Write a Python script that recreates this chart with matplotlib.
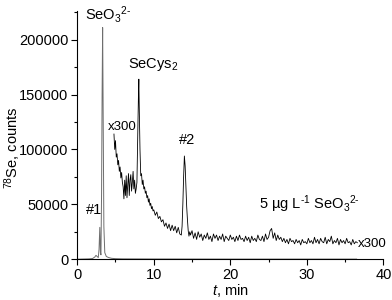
import matplotlib
matplotlib.use('Agg')
import matplotlib.pyplot as plt
from matplotlib.ticker import MultipleLocator

# raw trace (grey), counts
t_raw = [0.0, 1.5, 2.0, 2.3, 2.45, 2.6, 2.75, 2.85, 2.95, 3.03, 3.1, 3.18, 3.25, 3.32,
         3.4, 3.48, 3.6, 3.8, 4.1, 4.5, 5.0, 6.0, 10.0, 20.0, 36.5]
c_raw = [0, 300, 600, 2000, 3500, 2500, 1500, 9000, 29000, 6000, 4000, 60000, 150000, 211000,
         120000, 30000, 6000, 2500, 1500, 800, 500, 300, 200, 100, 100]

# x300 trace (black), counts
t_x300 = [4.8, 4.9, 5.0, 5.1, 5.2, 5.3, 5.4, 5.5, 5.6, 5.7, 5.8, 5.9, 6.0, 6.1, 6.2,
          6.3, 6.4, 6.5, 6.6, 6.7, 6.8, 6.9, 7.0, 7.1, 7.2, 7.3, 7.4, 7.5, 7.6, 7.7,
          7.8, 7.9, 8.0, 8.05, 8.1, 8.2, 8.3, 8.4, 8.5, 8.6, 8.7, 8.8, 8.9, 9.0, 9.1,
          9.2, 9.3, 9.4, 9.5, 9.6, 9.7, 9.8, 9.9, 10.0, 10.2, 10.4, 10.6, 10.8, 11.0,
          11.2, 11.4, 11.6, 11.8, 12.0, 12.2, 12.4, 12.6, 12.8, 13.0, 13.2, 13.4, 13.6,
          13.7, 13.8, 13.9, 14.0, 14.1, 14.2, 14.3, 14.4, 14.5, 14.6, 14.7, 14.8, 15.0,
          15.2, 15.4, 15.6, 15.8, 16.0, 16.2, 16.4, 16.6, 16.8, 17.0, 17.2, 17.4, 17.6,
          17.8, 18.0, 18.2, 18.4, 18.6, 18.8, 19.0, 19.2, 19.4, 19.6, 19.8, 20.0, 20.2,
          20.4, 20.6, 20.8, 21.0, 21.2, 21.4, 21.6, 21.8, 22.0, 22.2, 22.4, 22.6, 22.8,
          23.0, 23.2, 23.4, 23.6, 23.8, 24.0, 24.2, 24.4, 24.6, 24.8, 25.0, 25.2, 25.4,
          25.6, 25.8, 26.0, 26.2, 26.4, 26.6, 26.8, 27.0, 27.2, 27.4, 27.6, 27.8, 28.0,
          28.2, 28.4, 28.6, 28.8, 29.0, 29.2, 29.4, 29.6, 29.8, 30.0, 30.2, 30.4, 30.6,
          30.8, 31.0, 31.2, 31.4, 31.6, 31.8, 32.0, 32.2, 32.4, 32.6, 32.8, 33.0, 33.2,
          33.4, 33.6, 33.8, 34.0, 34.2, 34.4, 34.6, 34.8, 35.0, 35.2, 35.4, 35.6, 35.8,
          36.0, 36.2, 36.4, 36.6]
c_x300 = [114000, 100000, 108000, 93000, 96000, 86000, 90000, 80000, 84000, 74000, 79000, 70000, 66000, 55000, 72000,
          58000, 76000, 56000, 68000, 78000, 58000, 72000, 77000, 62000, 70000, 80000, 64000, 72000, 60000, 64000,
          70000, 110000, 150000, 164000, 140000, 100000, 76000, 78000, 68000, 72000, 64000, 66000, 60000, 62000, 56000,
          58000, 52000, 55000, 49000, 51000, 46000, 48000, 44000, 45000, 40000, 43000, 37000, 39000, 34000,
          36000, 30000, 33000, 28000, 32000, 26000, 31000, 26000, 30000, 24000, 29000, 23000, 22000,
          30000, 50000, 75000, 94000, 85000, 66000, 48000, 36000, 26000, 21000, 25000, 22000, 26000,
          19000, 24000, 18000, 25000, 20000, 23000, 17000, 22000, 19000, 24000, 18000, 21000, 16000,
          23000, 19000, 22000, 17000, 21000, 18000, 23000, 16000, 21000, 19000, 17000, 22000, 18000,
          20000, 16000, 21000, 17000, 22000, 18000, 19000, 16000, 21000, 17000, 20000, 15000, 21000,
          17000, 19000, 16000, 22000, 18000, 17000, 21000, 16000, 23000, 18000, 20000, 26000, 28000,
          19000, 24000, 17000, 22000, 18000, 20000, 16000, 19000, 15000, 18000, 14000, 19000, 16000,
          17000, 14000, 18000, 15000, 17000, 13000, 18000, 15000, 16000, 14000, 19000, 15000, 17000,
          14000, 20000, 15000, 18000, 14000, 19000, 16000, 15000, 20000, 14000, 18000, 16000, 21000,
          14000, 17000, 15000, 19000, 13000, 18000, 15000, 17000, 14000, 19000, 15000, 16000, 13000,
          18000, 14000, 16000, 15000]

plt.rcParams['font.family'] = ['Liberation Sans', 'DejaVu Sans']
plt.rcParams['mathtext.fontset'] = 'custom'
plt.rcParams['mathtext.rm'] = 'Liberation Sans'
plt.rcParams['mathtext.it'] = 'Liberation Sans:italic'

fig = plt.figure(figsize=(3.92, 3.0), dpi=100)
ax = fig.add_axes([0.197, 0.136, 0.781, 0.827])

ax.plot(t_raw, c_raw, color='#6e6e6e', lw=0.7)
ax.plot(t_x300, c_x300, color='black', lw=0.6)

ax.set_xlim(0, 40)
ax.set_ylim(0, 226000)
ax.spines['top'].set_visible(False)
ax.spines['right'].set_visible(False)
ax.xaxis.set_major_locator(MultipleLocator(10))
ax.xaxis.set_minor_locator(MultipleLocator(5))
ax.yaxis.set_major_locator(MultipleLocator(50000))
ax.yaxis.set_minor_locator(MultipleLocator(25000))
ax.tick_params(which='major', direction='out', length=4, width=0.8, labelsize=10.5, pad=2.5)
ax.tick_params(which='minor', direction='out', length=2.5, width=0.8)

ax.set_xlabel('$t$, min', fontsize=10.5, labelpad=0)
ax.set_ylabel('$^{78}$Se, counts', fontsize=10.5)
ax.yaxis.set_label_coords(-0.178, 0.45)

fs = 10.5
ion = 'SeO$_3$$^{\\text{2-}}$'
ax.text(4.1, 218500, ion, fontsize=fs, ha='center', va='baseline')
ax.text(6.6, 174000, 'SeCys$_2$', fontsize=fs, ha='left', va='baseline')
ax.text(4.0, 117500, 'x300', fontsize=fs - 1, ha='left', va='baseline')
ax.text(1.1, 41000, '#1', fontsize=fs, ha='left', va='baseline')
ax.text(14.3, 104500, '#2', fontsize=fs, ha='center', va='baseline')
ax.text(23.75, 45500, '5 µg L$^{\\text{-1}}$ ' + ion, fontsize=fs, ha='left', va='baseline')
ax.text(36.7, 14000, 'x300', fontsize=fs - 1, ha='left', va='center')

fig.savefig('out.png', dpi=100)
